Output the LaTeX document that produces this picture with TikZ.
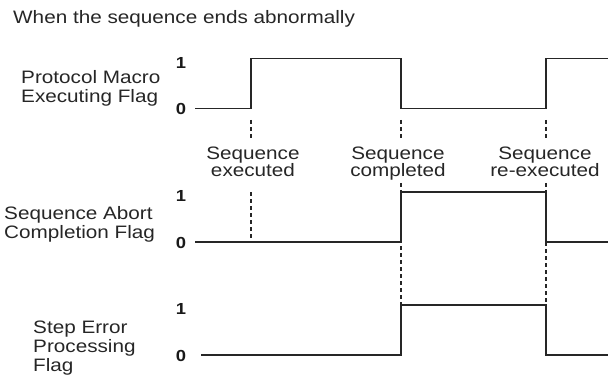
\documentclass[tikz,border=0pt]{standalone}
\usepackage{fontspec}
\setmainfont{Liberation Sans}[FakeStretch=1.15]
\begin{document}
\begin{tikzpicture}[x=1pt,y=-1pt,
  sig/.style={line width=1.3pt, black!85, line join=miter},
  guide/.style={dash pattern=on 4pt off 3pt, line width=1.2pt, black!85},
  lab/.style={font=\fontsize{18}{19}\selectfont, align=left, inner sep=0pt, anchor=base west, text=black!85},
  ev/.style={font=\fontsize{18}{17.5}\selectfont, align=center, inner sep=0pt, anchor=base, text=black!85},
  digit/.style={font=\fontsize{16}{16}\selectfont\bfseries, inner sep=0pt, text=black!90}]
\useasboundingbox (0,0) rectangle (608,377);

% title
\node[lab] (title) at (13,24) {When the sequence ends abnormally};

% signal labels (anchor = baseline of last line)
\node[lab] (l1) at (21,103) {Protocol Macro\\Executing Flag};
\node[lab] (l2) at (4,238) {Sequence Abort\\Completion Flag};
\node[lab] (l3) at (33,371) {Step Error\\Processing\\Flag};

% digits
\node[digit] (h1) at (181,62.5) {1};
\node[digit] (z1) at (181,109) {0};
\node[digit] (h2) at (181,196) {1};
\node[digit] (z2) at (181,242.5) {0};
\node[digit] (h3) at (181,309) {1};
\node[digit] (z3) at (181,355.5) {0};

% signal 1
\coordinate (a0) at (195,108.5);
\coordinate (a1) at (251,108.5);
\coordinate (a2) at (251,58.5);
\coordinate (a3) at (401,58.5);
\coordinate (a4) at (401,108.5);
\coordinate (a5) at (546,108.5);
\coordinate (a6) at (546,58.5);
\coordinate (a7) at (609,58.5);
\draw[sig] (a0) -- (a1) -- (a2) -- (a3) -- (a4) -- (a5) -- (a6) -- (a7);

% signal 2
\coordinate (b0) at (195,242);
\coordinate (b1) at (401,242);
\coordinate (b2) at (401,192);
\coordinate (b3) at (546,192);
\coordinate (b4) at (546,242);
\coordinate (b5) at (609,242);
\draw[sig] (b0) -- (b1) -- (b2) -- (b3) -- (b4) -- (b5);

% signal 3
\coordinate (c0) at (201,355);
\coordinate (c1) at (401,355);
\coordinate (c2) at (401,305);
\coordinate (c3) at (546,305);
\coordinate (c4) at (546,355);
\coordinate (c5) at (609,355);
\draw[sig] (c0) -- (c1) -- (c2) -- (c3) -- (c4) -- (c5);

% event labels (anchor = baseline of last line)
\node[ev] (e1) at (253,177) {Sequence\\executed};
\node[ev] (e2) at (398,177) {Sequence\\completed};
\node[ev] (e3) at (545,177) {Sequence\\re-executed};

% guides
\coordinate (g1a) at (251,120); \coordinate (g1b) at (251,138);
\coordinate (g1c) at (251,192); \coordinate (g1d) at (251,241);
\draw[guide] (g1a) -- (g1b);
\draw[guide] (g1c) -- (g1d);
\coordinate (g2a) at (401,120); \coordinate (g2b) at (401,138);
\coordinate (g2c) at (401,183); \coordinate (g2d) at (401,305);
\draw[guide] (g2a) -- (g2b);
\draw[guide] (g2c) -- (g2d);
\coordinate (g3a) at (546,120); \coordinate (g3b) at (546,138);
\coordinate (g3c) at (546,183); \coordinate (g3d) at (546,192);
\coordinate (g3e) at (546,242); \coordinate (g3f) at (546,305);
\draw[guide] (g3a) -- (g3b);
\draw[guide] (g3c) -- (g3d);
\draw[guide] (g3e) -- (g3f);
\end{tikzpicture}
\end{document}
